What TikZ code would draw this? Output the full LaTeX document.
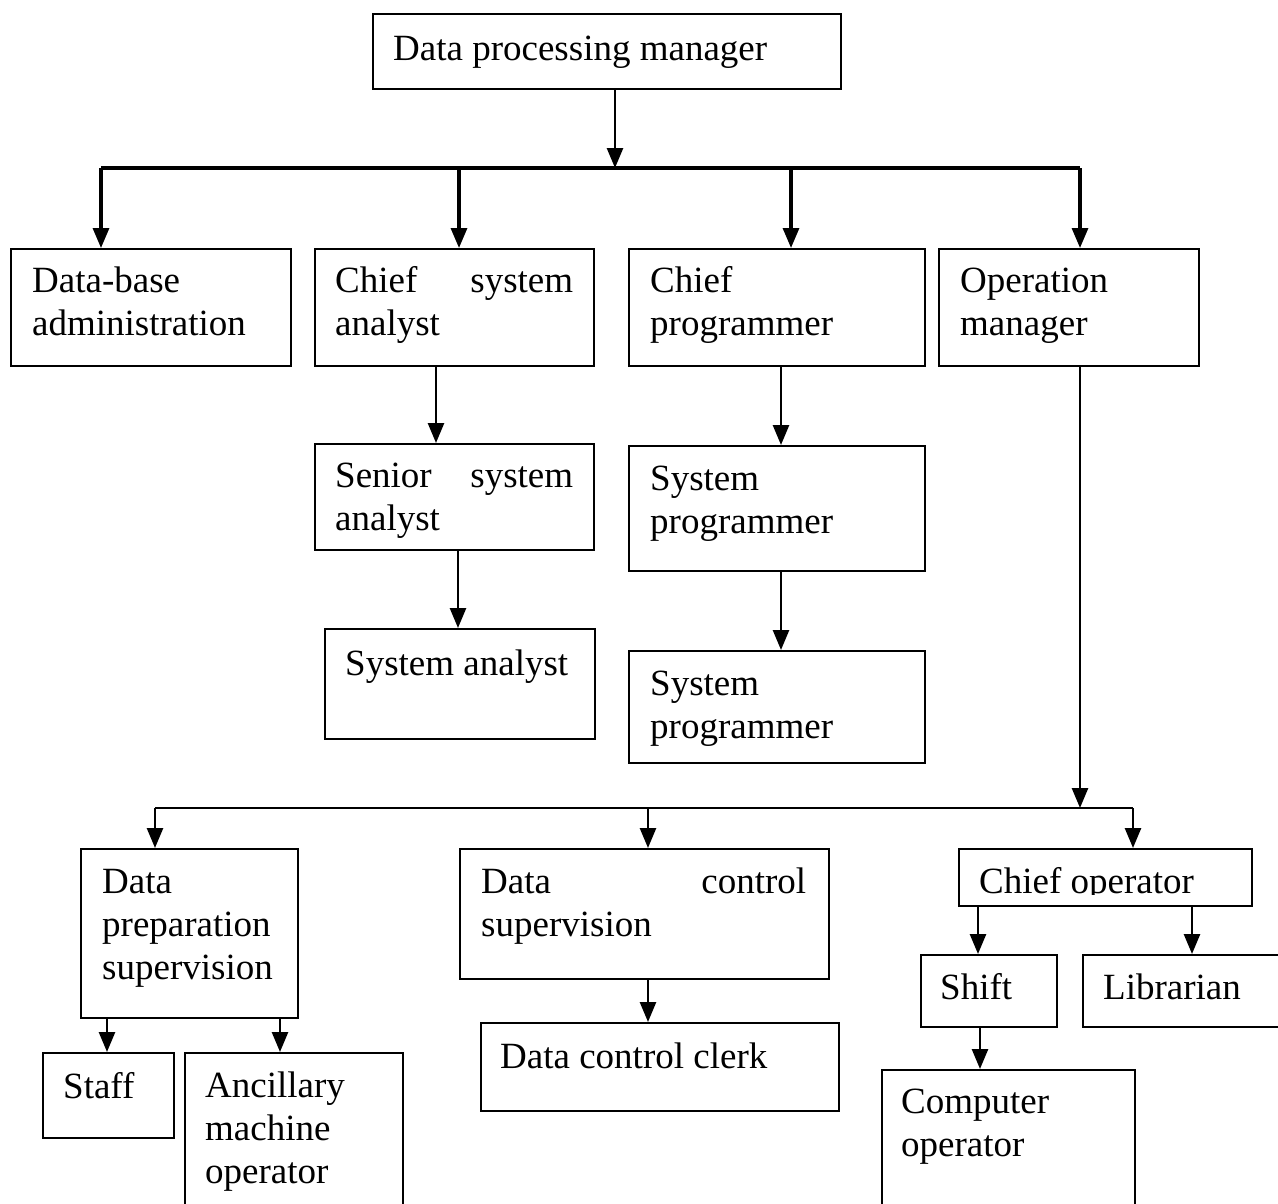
\documentclass[tikz,border=0pt]{standalone}
\usepackage{fontspec}
\setmainfont{Liberation Serif}
\usetikzlibrary{arrows.meta}

\tikzset{
  box/.style={draw, line width=1.8pt, anchor=north west, inner sep=0pt},
  txt/.style={anchor=base west, inner sep=0pt, font=\fontsize{37}{43}\selectfont},
  mtxt/.style={txt, align=left, text width=300pt},
  arr/.style={line width=2.6pt, -{Triangle[length=20pt,width=16pt]}},
  bus/.style={line width=3.4pt},
}

\begin{document}
\begin{tikzpicture}[x=1pt, y=-1pt]
  \clip (0,0) rectangle (1278,1203);
  % boxes
  \node[box, minimum width=468pt, minimum height=75pt] (dpm) at (372,13) {};
  \node[box, minimum width=280pt, minimum height=117pt] (dba) at (10,248) {};
  \node[box, minimum width=279pt, minimum height=117pt] (csa) at (314,248) {};
  \node[box, minimum width=296pt, minimum height=117pt] (cp) at (628,248) {};
  \node[box, minimum width=260pt, minimum height=117pt] (om) at (938,248) {};
  \node[box, minimum width=279pt, minimum height=106pt] (ssa) at (314,443) {};
  \node[box, minimum width=270pt, minimum height=110pt] (sa) at (324,628) {};
  \node[box, minimum width=296pt, minimum height=125pt] (sp1) at (628,445) {};
  \node[box, minimum width=296pt, minimum height=112pt] (sp2) at (628,650) {};
  \node[box, minimum width=217pt, minimum height=169pt] (dps) at (80,848) {};
  \node[box, minimum width=369pt, minimum height=130pt] (dcs) at (459,848) {};
  \node[box, minimum width=293pt, minimum height=57pt] (co) at (958,848) {};
  \node[box, minimum width=136pt, minimum height=72pt] (shift) at (920,954) {};
  \node[box, minimum width=200pt, minimum height=72pt] (lib) at (1082,954) {};
  \node[box, minimum width=253pt, minimum height=140pt] (cop) at (881,1069) {};
  \node[box, minimum width=131pt, minimum height=85pt] (staff) at (42,1052) {};
  \node[box, minimum width=218pt, minimum height=160pt] (anc) at (184,1052) {};
  \node[box, minimum width=358pt, minimum height=88pt] (dcc) at (480,1022) {};

  % texts
  \node[txt] (dpmtxt) at (393,60) {Data processing manager};
  \node[mtxt] (dbatxt) at (32,292) {Data-base\\administration};
  \node[mtxt, text width=238pt] (csatxt) at (335,292) {Chief\hfill system\\analyst};
  \node[mtxt] (cptxt) at (650,292) {Chief\\programmer};
  \node[mtxt] (omtxt) at (960,292) {Operation\\manager};
  \node[mtxt, text width=238pt] (ssatxt) at (335,487) {Senior\hfill system\\analyst};
  \node[txt] (satxt) at (345,675) {System analyst};
  \node[mtxt] (sp1txt) at (650,490) {System\\programmer};
  \node[mtxt] (sp2txt) at (650,695) {System\\programmer};
  \node[mtxt] (dpstxt) at (102,893) {Data\\preparation\\supervision};
  \node[mtxt, text width=325pt] (dcstxt) at (481,893) {Data\hfill control\\supervision};
  \begin{scope}
    \clip (958,848) rectangle (1251,894);
    \node[txt] (cotxt) at (979,893) {Chief operator};
  \end{scope}
  \node[txt] (shifttxt) at (940,999) {Shift};
  \node[txt] (libtxt) at (1103,999) {Librarian};
  \node[mtxt] (coptxt) at (901,1113) {Computer\\operator};
  \node[txt] (stafftxt) at (63,1098) {Staff};
  \node[mtxt] (anctxt) at (205,1097) {Ancillary\\machine\\operator};
  \node[txt] (dcctxt) at (500,1068) {Data control clerk};

  % upper level
  \coordinate (busA) at (101,168);
  \coordinate (busB) at (1080,168);
  \draw[arr] (dpm.south -| 615,0) -- (busA -| 615,0);
  \draw[bus] (busA) -- (busB);
  \draw[arr, line width=3.2pt] (busA) -- (dba.north -| busA);
  \draw[arr, line width=3.2pt] (busA -| 459,0) -- (csa.north -| 459,0);
  \draw[arr, line width=3.2pt] (busA -| 791,0) -- (cp.north -| 791,0);
  \draw[arr, line width=3.2pt] (busB) -- (om.north -| busB);
  \draw[arr] (csa.south -| 436,0) -- (ssa.north -| 436,0);
  \draw[arr] (ssa.south -| 458,0) -- (sa.north -| 458,0);
  \draw[arr] (cp.south -| 781,0) -- (sp1.north -| 781,0);
  \draw[arr] (sp1.south -| 781,0) -- (sp2.north -| 781,0);

  % lower level
  \coordinate (busC) at (155,808);
  \coordinate (busD) at (1133,808);
  \draw[arr] (om.south -| 1080,0) -- (busC -| 1080,0);
  \draw[bus, line width=2.8pt] (busC) -- (busD);
  \draw[arr] (busC) -- (dps.north -| busC);
  \draw[arr] (busC -| 648,0) -- (dcs.north -| 648,0);
  \draw[arr] (busD) -- (co.north -| busD);
  \draw[arr] (dps.south -| 107,0) -- (staff.north -| 107,0);
  \draw[arr] (dps.south -| 280,0) -- (anc.north -| 280,0);
  \draw[arr] (dcs.south -| 648,0) -- (dcc.north -| 648,0);
  \draw[arr] (co.south -| 978,0) -- (shift.north -| 978,0);
  \draw[arr] (co.south -| 1192,0) -- (lib.north -| 1192,0);
  \draw[arr] (shift.south -| 980,0) -- (cop.north -| 980,0);
\end{tikzpicture}
\end{document}
